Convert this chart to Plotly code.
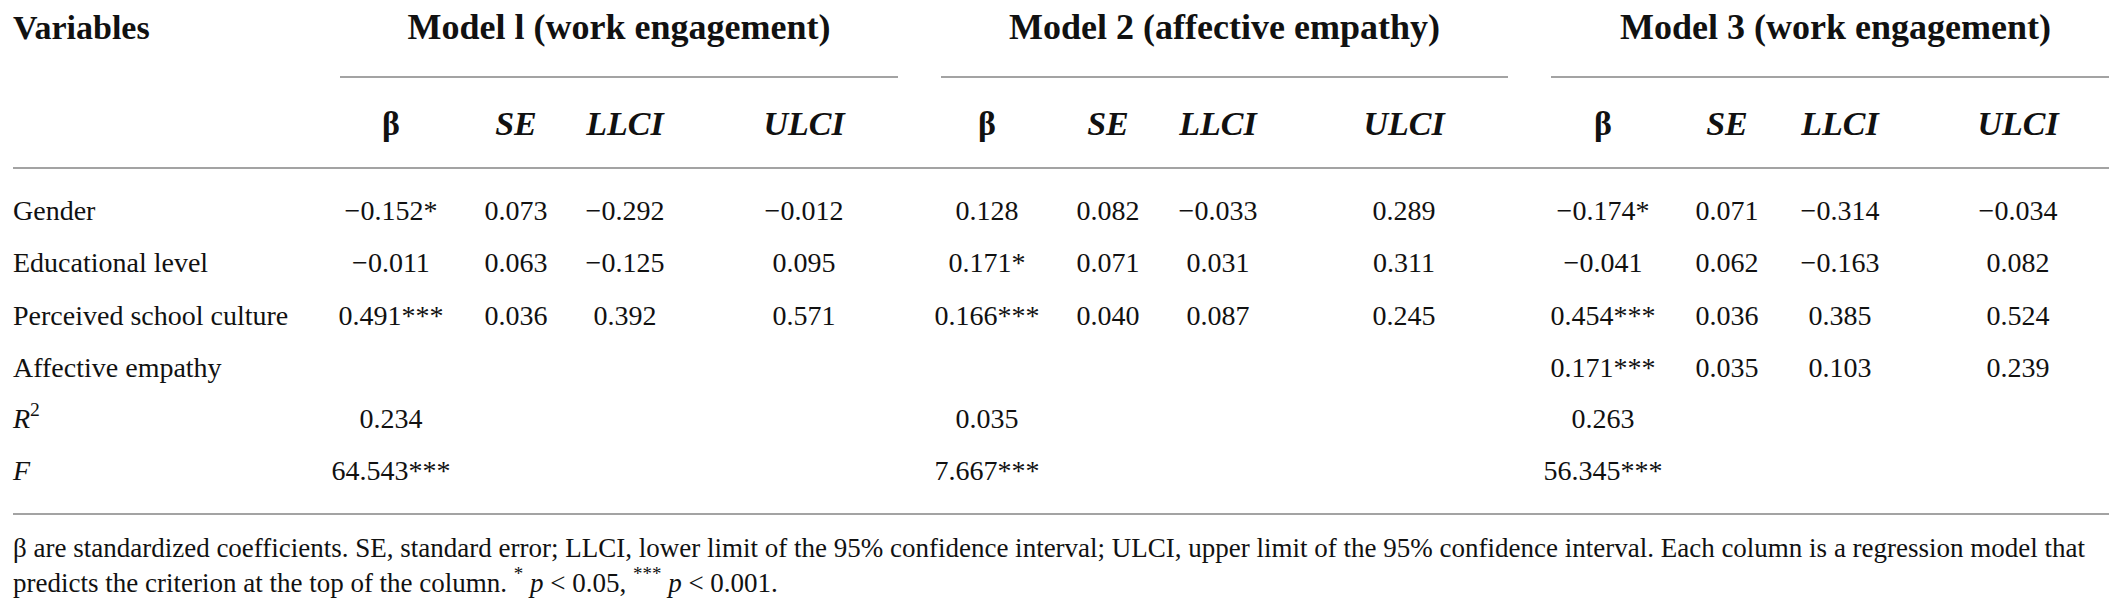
import plotly.graph_objects as go

# table content
variables = ['Gender', 'Educational level', 'Perceived school culture',
             'Affective empathy', '<i>R</i><sup>2</sup>', '<i>F</i>']
models = ['Model l (work engagement)', 'Model 2 (affective empathy)',
          'Model 3 (work engagement)']
stats = ['β', '<i>SE</i>', '<i>LLCI</i>', '<i>ULCI</i>']

m1_beta = ['−0.152*', '−0.011', '0.491***', '', '0.234', '64.543***']
m1_se = ['0.073', '0.063', '0.036', '', '', '']
m1_llci = ['−0.292', '−0.125', '0.392', '', '', '']
m1_ulci = ['−0.012', '0.095', '0.571', '', '', '']

m2_beta = ['0.128', '0.171*', '0.166***', '', '0.035', '7.667***']
m2_se = ['0.082', '0.071', '0.040', '', '', '']
m2_llci = ['−0.033', '0.031', '0.087', '', '', '']
m2_ulci = ['0.289', '0.311', '0.245', '', '', '']

m3_beta = ['−0.174*', '−0.041', '0.454***', '0.171***', '0.263', '56.345***']
m3_se = ['0.071', '0.062', '0.036', '0.035', '', '']
m3_llci = ['−0.314', '−0.163', '0.385', '0.103', '', '']
m3_ulci = ['−0.034', '0.082', '0.524', '0.239', '', '']

footnote = [
    'β are standardized coefficients. SE, standard error; LLCI, lower limit of the 95% '
    'confidence interval; ULCI, upper limit of the 95% confidence interval. Each column '
    'is a regression model that',
    'predicts the criterion at the top of the column. <sup>*</sup> <i>p</i> &lt; 0.05, '
    '<sup>***</sup> <i>p</i> &lt; 0.001.',
]

model_cols = [
    [m1_beta, m1_se, m1_llci, m1_ulci],
    [m2_beta, m2_se, m2_llci, m2_ulci],
    [m3_beta, m3_se, m3_llci, m3_ulci],
]

# layout in pixel units
W, H = 2117, 598
FONT = 'Liberation Serif'
INK = '#111111'
RULE = '#a3a3a3'
col_x = [[383, 508, 617, 796], [979, 1100, 1210, 1396], [1595, 1719, 1832, 2010]]
spans = [(332, 890), (933, 1500), (1543, 2112)]
row_y = [205, 257, 310, 362, 413, 465]
head_y, sub_y = 22, 118
foot_y = [542, 577]

fig = go.Figure()

fig.add_trace(go.Scatter(
    x=[5], y=[head_y], mode='text', text=['<b>Variables</b>'],
    textposition='middle right', textfont=dict(family=FONT, size=34, color=INK)))

fig.add_trace(go.Scatter(
    x=[(a + b) / 2 for a, b in spans], y=[head_y] * 3, mode='text',
    text=['<b>%s</b>' % m for m in models],
    textposition='middle center', textfont=dict(family=FONT, size=36, color=INK)))

sx, sy, st = [], [], []
for cols in col_x:
    for x, s in zip(cols, stats):
        sx.append(x)
        sy.append(sub_y)
        st.append('<b>%s</b>' % s)
fig.add_trace(go.Scatter(
    x=sx, y=sy, mode='text', text=st, textposition='middle center',
    textfont=dict(family=FONT, size=34, color=INK)))

fig.add_trace(go.Scatter(
    x=[5] * len(variables), y=row_y, mode='text', text=variables,
    textposition='middle right', textfont=dict(family=FONT, size=28, color=INK)))

cx, cy, ct = [], [], []
for cols, series in zip(col_x, model_cols):
    for x, vals in zip(cols, series):
        for y, v in zip(row_y, vals):
            if v:
                cx.append(x)
                cy.append(y)
                ct.append(v)
fig.add_trace(go.Scatter(
    x=cx, y=cy, mode='text', text=ct, textposition='middle center',
    textfont=dict(family=FONT, size=28, color=INK)))

fig.add_trace(go.Scatter(
    x=[5, 5], y=foot_y, mode='text', text=footnote, textposition='middle right',
    textfont=dict(family=FONT, size=27, color=INK)))

# rules
for a, b in spans:
    fig.add_shape(type='line', x0=a, x1=b, y0=69, y1=69, line=dict(color=RULE, width=2))
fig.add_shape(type='line', x0=5, x1=W, y0=160, y1=160, line=dict(color=RULE, width=2))
fig.add_shape(type='line', x0=5, x1=W, y0=506, y1=506, line=dict(color=RULE, width=2))

fig.update_layout(
    width=W, height=H, margin=dict(l=0, r=0, t=0, b=0),
    paper_bgcolor='white', plot_bgcolor='white', showlegend=False,
    hovermode=False,
    xaxis=dict(range=[0, W], visible=False, fixedrange=True),
    yaxis=dict(range=[H, 0], visible=False, fixedrange=True),
)

fig.write_html('out.html')
